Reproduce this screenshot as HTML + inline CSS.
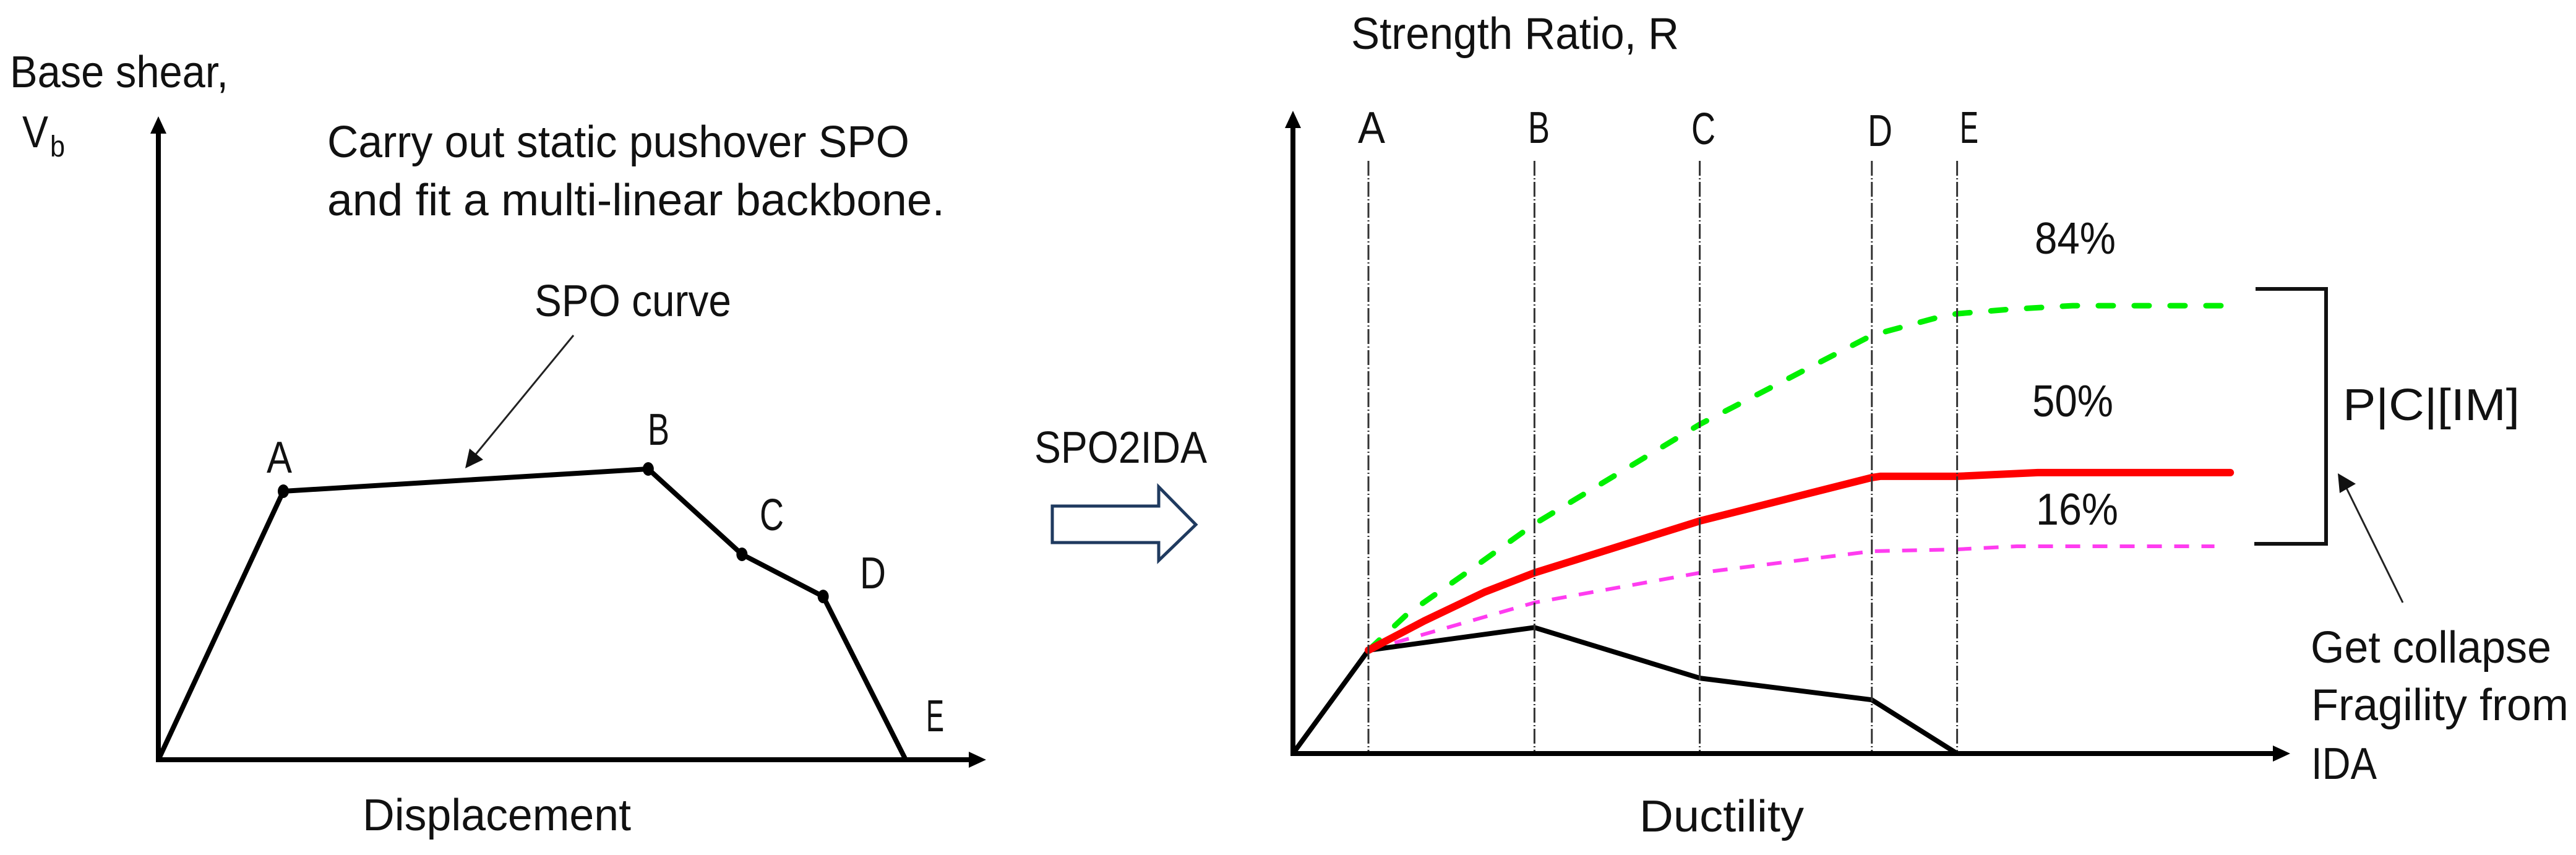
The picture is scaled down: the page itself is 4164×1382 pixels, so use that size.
<!DOCTYPE html>
<html lang="en">
<head>
<meta charset="utf-8">
<title>SPO to IDA</title>
<style>
html,body{margin:0;padding:0;background:#fff;width:4164px;height:1382px;overflow:hidden}
svg{display:block}
text{font-family:"Liberation Sans",sans-serif;font-size:72px;fill:#111}
</style>
</head>
<body>
<svg id="figure" xmlns="http://www.w3.org/2000/svg" width="4164" height="1382" viewBox="0 0 4164 1382">
  <rect width="4164" height="1382" fill="#fff"/>

  <g id="left-chart"></g>
  <g id="right-chart"></g>

  <g>
    <text x="16" y="141" textLength="353" lengthAdjust="spacingAndGlyphs">Base shear,</text>
    <text x="36" y="238" textLength="42" lengthAdjust="spacingAndGlyphs">V</text>
    <text x="81" y="253" textLength="24" lengthAdjust="spacingAndGlyphs" style="font-size:48px">b</text>
    <text x="529" y="254" textLength="941" lengthAdjust="spacingAndGlyphs">Carry out static pushover SPO</text>
    <text x="529" y="348" textLength="998" lengthAdjust="spacingAndGlyphs">and fit a multi-linear backbone.</text>
    <text x="864" y="511" textLength="318" lengthAdjust="spacingAndGlyphs">SPO curve</text>
    <text x="431" y="764" textLength="41" lengthAdjust="spacingAndGlyphs">A</text>
    <text x="1047" y="719" textLength="35" lengthAdjust="spacingAndGlyphs">B</text>
    <text x="1228" y="857" textLength="39" lengthAdjust="spacingAndGlyphs">C</text>
    <text x="1390" y="951" textLength="42" lengthAdjust="spacingAndGlyphs">D</text>
    <text x="1497" y="1182" textLength="29" lengthAdjust="spacingAndGlyphs">E</text>
    <text x="586" y="1342" textLength="434" lengthAdjust="spacingAndGlyphs">Displacement</text>
    <line x1="927" y1="542" x2="766" y2="738" stroke="#222" stroke-width="3"/>
    <polygon points="752,757 759,725 781,743" fill="#111"/>
  </g>

  <g>
    <text x="1672" y="748" textLength="279" lengthAdjust="spacingAndGlyphs">SPO2IDA</text>
    <polygon points="1701,818 1873,818 1873,787 1933,848 1873,906 1873,877 1701,877" fill="#fff" stroke="#1f3a5f" stroke-width="5"/>
  </g>

  <g>
    <text x="2184" y="79" textLength="530" lengthAdjust="spacingAndGlyphs">Strength Ratio, R</text>
    <text x="2195" y="231" textLength="44" lengthAdjust="spacingAndGlyphs">A</text>
    <text x="2470" y="231" textLength="35" lengthAdjust="spacingAndGlyphs">B</text>
    <text x="2734" y="233" textLength="39" lengthAdjust="spacingAndGlyphs">C</text>
    <text x="3019" y="236" textLength="40" lengthAdjust="spacingAndGlyphs">D</text>
    <text x="3168" y="231" textLength="30" lengthAdjust="spacingAndGlyphs">E</text>
    <text x="3289" y="410" textLength="131" lengthAdjust="spacingAndGlyphs">84%</text>
    <text x="3285" y="673" textLength="131" lengthAdjust="spacingAndGlyphs">50%</text>
    <text x="3291" y="848" textLength="133" lengthAdjust="spacingAndGlyphs">16%</text>
    <text x="2650" y="1344" textLength="266" lengthAdjust="spacingAndGlyphs">Ductility</text>
    <polyline points="3646,467 3760,467 3760,879 3644,879" fill="none" stroke="#111" stroke-width="6"/>
    <text x="3787" y="679" textLength="286" lengthAdjust="spacingAndGlyphs">P|C|[IM]</text>
    <line x1="3884" y1="974" x2="3792" y2="787" stroke="#222" stroke-width="3"/>
    <polygon points="3779,765 3808,782 3782,797" fill="#111"/>
    <text x="3735" y="1071" textLength="389" lengthAdjust="spacingAndGlyphs">Get collapse</text>
    <text x="3736" y="1164" textLength="416" lengthAdjust="spacingAndGlyphs">Fragility from</text>
    <text x="3736" y="1259" textLength="106" lengthAdjust="spacingAndGlyphs">IDA</text>
  </g>
</svg>

<script>
// Left chart data: displacement and base shear, in units of the point-A values
const spoDisplacement = [0, 1, 3.92, 4.67, 5.32, 5.98];
const spoShear = [0, 1, 1.083, 0.765, 0.608, 0];

// Right chart data: ductility and strength ratio, in units of the point-A values
const breakpointDuctility = [1, 3.2, 5.39, 7.67, 8.8];
const backboneDuctility = [0, 1, 3.2, 5.39, 7.67, 8.8];
const backboneStrength = [0, 1, 1.22, 0.73, 0.52, 0];
const p84Ductility = [1, 1.52, 2.25, 3.2, 5.39, 7.67, 8.61, 8.8, 9.48, 10.33, 12.42];
const p84Strength = [1, 1.353, 1.725, 2.222, 3.186, 4.048, 4.234, 4.257, 4.299, 4.335, 4.335];
const p50Ductility = [1, 1.74, 2.54, 3.2, 5.39, 7.67, 7.78, 8.8, 9.87, 12.42];
const p50Strength = [1, 1.284, 1.563, 1.749, 2.251, 2.671, 2.683, 2.683, 2.719, 2.719];
const p16Ductility = [1, 3.2, 5.39, 7.67, 8.8, 9.59, 12.21];
const p16Strength = [1, 1.461, 1.749, 1.958, 1.976, 2.006, 2.006];

const SVG_NS = 'http://www.w3.org/2000/svg';
const leftX = v => 256 + v * 202;
const leftY = v => 1228 - v * 434;
const rightX = v => 2090 + v * 122;
const rightY = v => 1218 - v * 167;

function make(parent, tag, attrs) {
  const el = document.createElementNS(SVG_NS, tag);
  Object.keys(attrs).forEach(k => el.setAttribute(k, attrs[k]));
  parent.appendChild(el);
  return el;
}
function pointsOf(xs, ys, sx, sy) {
  return xs.map((x, i) => sx(x).toFixed(1) + ',' + sy(ys[i]).toFixed(1)).join(' ');
}

function drawAxes(group, ox, oy, top, right, width, prefix) {
  const yAxis = make(group, 'line', {x1: ox, y1: oy + width / 2, x2: ox, y2: top + 20, stroke: '#000', 'stroke-width': width});
  
  
  const yHead = make(group, 'polygon', {points: ox + ',' + top + ' ' + (ox + 13) + ',' + (top + 28) + ' ' + (ox - 13) + ',' + (top + 28), fill: '#000'});
  
  
  const xAxis = make(group, 'line', {x1: ox - width / 2, y1: oy, x2: right - 20, y2: oy, stroke: '#000', 'stroke-width': width});
  
  
  const xHead = make(group, 'polygon', {points: right + ',' + oy + ' ' + (right - 28) + ',' + (oy - 13) + ' ' + (right - 28) + ',' + (oy + 13), fill: '#000'});
  
  
}

// ---- Left chart ----
const leftGroup = document.getElementById('left-chart');
drawAxes(leftGroup, leftX(0), leftY(0), 188, 1594, 8, 'left');

const spoLine = make(leftGroup, 'polyline', {
  points: pointsOf(spoDisplacement, spoShear, leftX, leftY),
  fill: 'none', stroke: '#000', 'stroke-width': 8, 'stroke-linejoin': 'round'
});



spoDisplacement.forEach((d, i) => {
  if (i === 0 || i === spoDisplacement.length - 1) return;
  const dot = make(leftGroup, 'ellipse', {cx: leftX(d), cy: leftY(spoShear[i]), rx: 9, ry: 11, fill: '#000'});
  
  
});

// ---- Right chart ----
const rightGroup = document.getElementById('right-chart');

const p84Line = make(rightGroup, 'polyline', {
  points: pointsOf(p84Ductility, p84Strength, rightX, rightY),
  fill: 'none', stroke: '#00f000', 'stroke-width': 9, 'stroke-dasharray': '24 34', 'stroke-linecap': 'round'
});



const p16Line = make(rightGroup, 'polyline', {
  points: pointsOf(p16Ductility, p16Strength, rightX, rightY),
  fill: 'none', stroke: '#ff3cf0', 'stroke-width': 6, 'stroke-dasharray': '24 20'
});



const backboneLine = make(rightGroup, 'polyline', {
  points: pointsOf(backboneDuctility, backboneStrength, rightX, rightY),
  fill: 'none', stroke: '#000', 'stroke-width': 8, 'stroke-linejoin': 'round'
});



const p50Line = make(rightGroup, 'polyline', {
  points: pointsOf(p50Ductility, p50Strength, rightX, rightY),
  fill: 'none', stroke: '#ff0000', 'stroke-width': 12, 'stroke-linejoin': 'round', 'stroke-linecap': 'round'
});



breakpointDuctility.forEach(d => {
  const guide = make(rightGroup, 'line', {
    x1: rightX(d), y1: 260, x2: rightX(d), y2: rightY(0),
    stroke: '#333', 'stroke-width': 3, 'stroke-dasharray': '24 4 2 4'
  });
  
  
});

drawAxes(rightGroup, rightX(0), rightY(0), 179, 3702, 8, 'right');
</script>
</body>
</html>
